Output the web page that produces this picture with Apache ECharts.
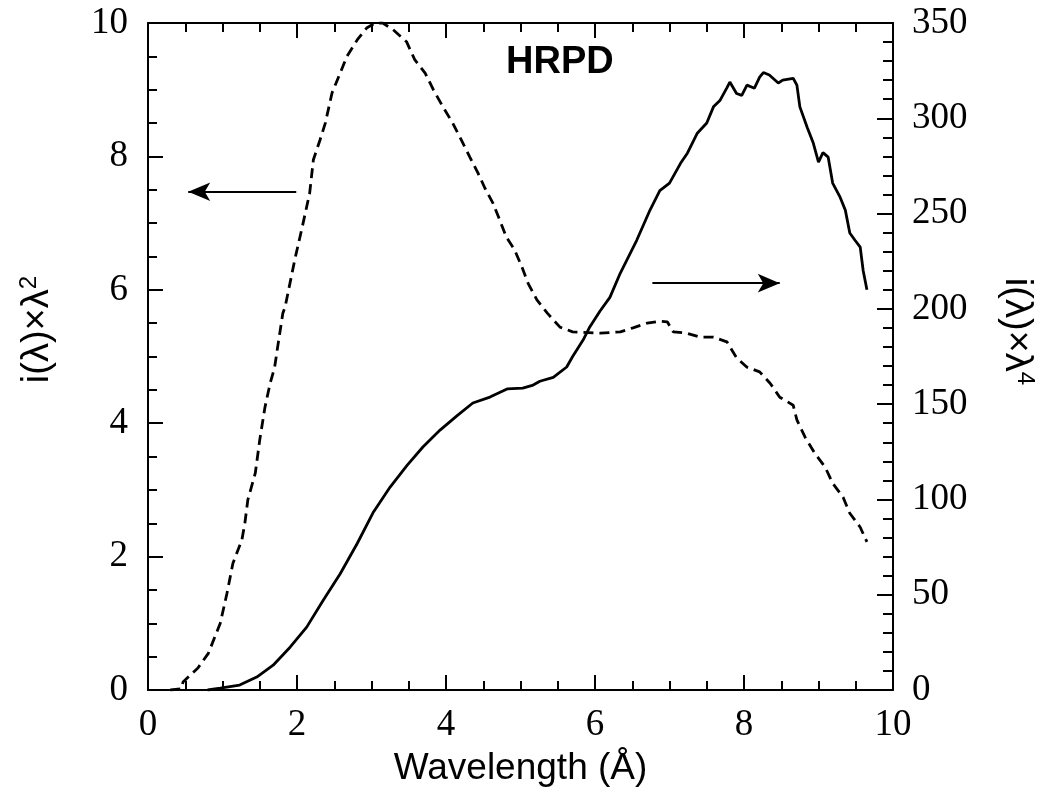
<!DOCTYPE html>
<html>
<head>
<meta charset="utf-8">
<script src="https://cdn.jsdelivr.net/npm/echarts@6/dist/echarts.min.js"></script>
<style>html,body{margin:0;padding:0;background:#fff;}#c{width:1056px;height:800px;}</style>
</head>
<body>
<div id="c"></div>
<script>
// Dashed curve: i(λ)×λ² (left axis)
const dashX = [0.30,0.45,0.47,0.67,0.81,0.97,1.06,1.14,1.26,1.30,1.34,1.44,1.50,1.57,1.64,1.70,1.74,1.81,1.84,1.97,2.07,2.17,2.22,2.31,2.38,2.47,2.58,2.67,2.81,2.94,3.05,3.15,3.29,3.47,3.58,3.72,3.83,3.96,4.09,4.19,4.32,4.43,4.52,4.63,4.72,4.81,4.92,5.02,5.10,5.22,5.36,5.53,5.70,6.07,6.34,6.51,6.70,6.87,6.97,7.05,7.23,7.41,7.59,7.77,7.90,8.04,8.21,8.35,8.48,8.66,8.71,8.82,8.95,9.09,9.19,9.33,9.42,9.56,9.65];
const dashY = [0.00,0.02,0.12,0.33,0.55,1.00,1.45,1.90,2.25,2.50,2.85,3.25,3.75,4.24,4.60,4.84,5.14,5.65,5.74,6.45,6.94,7.45,7.95,8.25,8.50,8.95,9.25,9.50,9.75,9.93,10.0,10.0,9.90,9.72,9.45,9.25,9.00,8.74,8.50,8.28,7.99,7.75,7.53,7.30,7.05,6.79,6.60,6.34,6.10,5.85,5.65,5.44,5.37,5.35,5.37,5.43,5.50,5.53,5.52,5.37,5.35,5.29,5.29,5.22,4.98,4.84,4.77,4.60,4.39,4.27,4.05,3.79,3.55,3.34,3.10,2.89,2.65,2.44,2.22];
// Solid curve: i(λ)×λ⁴ (right axis)
const solidX = [0.80,0.97,1.23,1.46,1.68,1.91,2.13,2.35,2.58,2.81,3.02,3.25,3.48,3.69,3.92,4.15,4.36,4.59,4.82,5.03,5.17,5.26,5.44,5.62,5.70,5.84,5.93,6.07,6.20,6.34,6.56,6.74,6.87,7.00,7.15,7.24,7.37,7.50,7.59,7.68,7.77,7.81,7.90,7.97,8.04,8.14,8.21,8.26,8.34,8.46,8.52,8.66,8.71,8.75,8.85,8.93,9.00,9.06,9.13,9.19,9.29,9.36,9.42,9.49,9.56,9.60,9.65];
const solidY = [0,1,2.6,6.8,13,22.6,33,47,61,77,93,106.5,118,127.5,136.4,144,150.6,153.7,158,158.4,160,162,164,169.5,175,183.6,190.5,199,206,218.8,236,252,262,266,276.5,281.7,292,297.5,306,309.5,316,319,313,312,317.4,315.8,321.6,324,322.7,318.5,320,321,317.4,306,295,287,277,282,279.6,266,258.6,251.8,239.8,236,232.4,220,210];
const xTicks = [0,2,4,6,8,10];
const leftTicks = [0,2,4,6,8,10];
const rightTicks = [0,50,100,150,200,250,300,350];

const dashData = dashX.map((x,i)=>[x,dashY[i]]);
const solidData = solidX.map((x,i)=>[x,solidY[i]]);

const serif = '"Liberation Serif", "DejaVu Serif", serif';
const sans = '"Liberation Sans", Arial, sans-serif';
const axisLine = {show:true, onZero:false, lineStyle:{color:'#000', width:2}};

const chart = echarts.init(document.getElementById('c'), null, {renderer:'canvas'});
chart.setOption({
  animation:false,
  backgroundColor:'#fff',
  grid:{left:148, right:163, top:23, bottom:110, show:false},
  graphic:[{type:'text', left:506, top:44, style:{text:'HRPD', font:'bold 38px "Liberation Sans", Arial, sans-serif', fill:'#000'}}],
  xAxis:[{
    type:'value', min:0, max:10, interval:2, position:'bottom',
    axisLine:axisLine,
    axisTick:{show:true, inside:true, length:15, lineStyle:{color:'#000', width:2}},
    minorTick:{show:true, splitNumber:4, length:9, lineStyle:{color:'#000', width:2}},
    splitLine:{show:false},
    axisLabel:{color:'#000', fontFamily:serif, fontSize:37, margin:17},
    name:'Wavelength (Å)', nameLocation:'middle', nameGap:60,
    nameTextStyle:{color:'#000', fontFamily:sans, fontSize:37}
  },{
    type:'value', min:0, max:10, interval:2, position:'top',
    axisLine:axisLine,
    axisTick:{show:true, inside:true, length:15, lineStyle:{color:'#000', width:2}},
    minorTick:{show:true, splitNumber:4, length:9, lineStyle:{color:'#000', width:2}},
    splitLine:{show:false}, axisLabel:{show:false}
  }],
  yAxis:[{
    type:'value', min:0, max:10, interval:2, position:'left',
    axisLine:axisLine,
    axisTick:{show:true, inside:true, length:15, lineStyle:{color:'#000', width:2}},
    minorTick:{show:true, splitNumber:4, length:9, lineStyle:{color:'#000', width:2}},
    splitLine:{show:false},
    axisLabel:{color:'#000', fontFamily:serif, fontSize:37, margin:20},
    name:'i(λ)×λ{s|2}', nameLocation:'middle', nameGap:89, nameRotate:90,
    nameTextStyle:{color:'#000', fontFamily:sans, fontSize:38, padding:[0,0,0,54],
      rich:{s:{fontFamily:sans, fontSize:24, verticalAlign:'top', padding:[0,0,18,0], color:'#000'}}}
  },{
    type:'value', min:0, max:350, interval:50, position:'right',
    axisLine:axisLine,
    axisTick:{show:true, inside:true, length:16, lineStyle:{color:'#000', width:2}},
    minorTick:{show:true, splitNumber:5, length:10, lineStyle:{color:'#000', width:2}},
    splitLine:{show:false},
    axisLabel:{color:'#000', fontFamily:serif, fontSize:37, margin:19},
    name:'i(λ)×λ{s|4}', nameLocation:'middle', nameGap:102, nameRotate:-90,
    nameTextStyle:{color:'#000', fontFamily:sans, fontSize:38, padding:[0,50,0,0],
      rich:{s:{fontFamily:sans, fontSize:24, verticalAlign:'top', padding:[0,0,18,0], color:'#000'}}}
  }],
  series:[{
    type:'line', name:'i(λ)×λ²', xAxisIndex:0, yAxisIndex:0, data:dashData,
    showSymbol:false, symbol:'none',
    lineStyle:{color:'#000', width:2.8, type:[10,6]},
    markLine:{silent:true, symbol:['none','arrow'], symbolSize:[14,22],
      label:{show:false}, lineStyle:{color:'#000', width:2, type:'solid'},
      data:[
        [{coord:[1.99,7.47]},{coord:[0.54,7.47]}],
        [{coord:[6.77,6.10]},{coord:[8.48,6.10]}]
      ]}
  },{
    type:'line', name:'i(λ)×λ⁴', xAxisIndex:0, yAxisIndex:1, data:solidData,
    showSymbol:false, symbol:'none',
    lineStyle:{color:'#000', width:2.8}
  }]
});
</script>
</body>
</html>
